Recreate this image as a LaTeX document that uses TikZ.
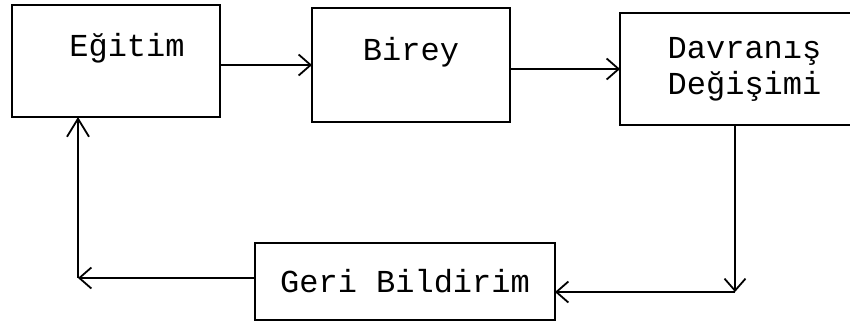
\documentclass[tikz,border=0pt]{standalone}
\usepackage{fontspec}
\setmonofont{Liberation Mono}
\usetikzlibrary{arrows.meta}

\begin{document}
\begin{tikzpicture}[y=0.50pt, x=0.50pt, yscale=-1.000000, xscale=1.000000, inner sep=0pt, outer sep=0pt,
    kutu/.style={draw=black, line width=0.9pt, align=center,
      font=\ttfamily\fontsize{16}{18}\selectfont},
    tek/.style={text height=10pt, text depth=15pt},
    ok/.style={draw=black, line width=0.9pt, line join=miter,
      -{Straight Barb[length=6pt,width=10.5pt,line width=0.9pt]}}]
  \useasboundingbox (0,0) rectangle (850,323);
  % kutular
  \node[kutu, tek, minimum width=104pt, minimum height=56pt] (egitim) at (116,61) {\hspace*{11pt}Eğitim};
  \node[kutu, tek, minimum width=99pt, minimum height=57pt] (birey) at (411,65) {Birey};
  \node[kutu, minimum width=117.5pt, minimum height=56pt] (davranis) at (737.5,69) {\hspace*{7pt}Davranış\\\hspace*{7pt}Değişimi};
  \node[kutu, minimum width=150pt, minimum height=38.5pt] (geri) at (405,281.5) {Geri Bildirim};
  % koseler
  \coordinate (kose-sag) at (735,292);
  \coordinate (kose-sol) at (78,278);
  % oklar
  \path[ok] (egitim.east |- birey.west) -- (birey.west);
  \path[ok] (birey.east |- davranis.west) -- (davranis.west);
  \path[ok] (davranis.south -| kose-sag) -- (kose-sag);
  \path[ok] (kose-sag) -- (geri.east |- kose-sag);
  \path[ok] (geri.west |- kose-sol) -- (kose-sol);
  \path[ok, -{Straight Barb[length=9pt,width=11pt,line width=0.9pt]}] (kose-sol) -- (kose-sol |- egitim.south);
\end{tikzpicture}
\end{document}
